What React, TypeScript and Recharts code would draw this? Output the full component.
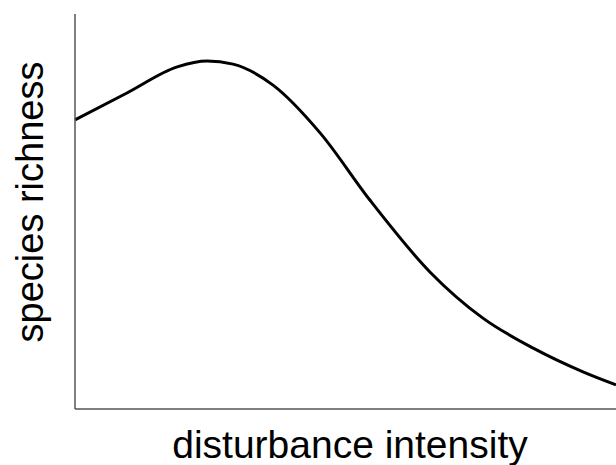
import React from "react";
import { LineChart, Line, XAxis, YAxis, Label } from "recharts";

// disturbance intensity (0–100, arbitrary units)
const disturbance = [0, 9.6, 18.9, 24.4, 29.2, 36.6, 45.3, 54.5, 65.6, 75.4, 84.7, 93.9, 100];
// species richness (0–100, arbitrary units)
const richness = [73.2, 80.0, 86.6, 88.1, 87.3, 82.0, 69.9, 52.9, 34.7, 23.0, 15.4, 9.4, 6.1];

const xTitle = "disturbance intensity";
const yTitle = "species richness";

const data = disturbance.map((x, i) => ({ x, y: richness[i] }));

const font = "'Liberation Sans', Arial, sans-serif";
const axisColor = "#555";

export default function App() {
  return (
    <div style={{ position: "absolute", top: 0, left: 0, background: "#fff" }}>
      <LineChart width={616} height={465} data={data} margin={{ top: 14, right: 0, left: 0, bottom: 0 }}>
        <XAxis
          dataKey="x"
          type="number"
          domain={[0, 100]}
          height={56}
          tick={false}
          tickLine={false}
          axisLine={{ stroke: axisColor, strokeWidth: 1.5 }}
        >
          <Label
            content={() => (
              <text x={350} y={458} textAnchor="middle" fontSize={39} fontFamily={font} fill="#000">
                {xTitle}
              </text>
            )}
          />
        </XAxis>
        <YAxis
          type="number"
          domain={[0, 100]}
          width={75}
          tick={false}
          tickLine={false}
          axisLine={{ stroke: axisColor, strokeWidth: 1.5 }}
        >
          <Label
            content={() => (
              <text
                x={43}
                y={202}
                transform="rotate(-90, 43, 202)"
                textAnchor="middle"
                fontSize={38}
                fontFamily={font}
                fill="#000"
              >
                {yTitle}
              </text>
            )}
          />
        </YAxis>
        <Line
          type="monotone"
          dataKey="y"
          stroke="#000"
          strokeWidth={3}
          dot={false}
          isAnimationActive={false}
        />
      </LineChart>
    </div>
  );
}
